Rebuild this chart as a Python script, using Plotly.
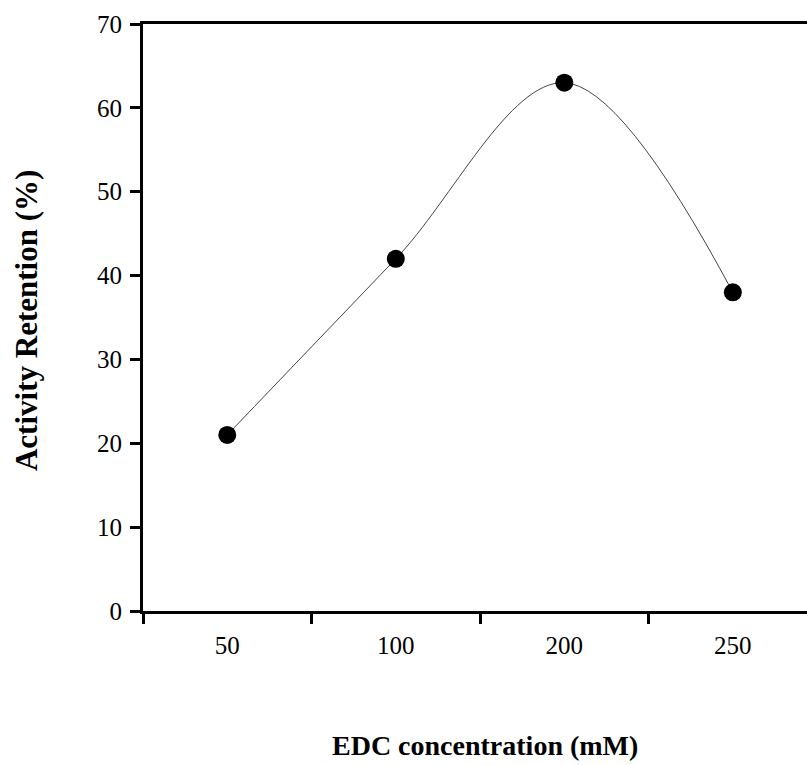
import plotly.graph_objects as go

categories = ["50", "100", "200", "250"]
activity_retention = [21, 42, 63, 38]
y_ticks = [0, 10, 20, 30, 40, 50, 60, 70]

fig = go.Figure()
fig.add_trace(go.Scatter(
    x=categories, y=activity_retention,
    mode="lines+markers",
    line=dict(color="#444444", width=1, shape="spline", smoothing=1.0),
    marker=dict(color="black", size=18),
    showlegend=False,
))

font_family = "Liberation Serif"
fig.update_layout(
    width=807, height=765,
    margin=dict(l=143, r=0, t=24, b=154, autoexpand=False),
    paper_bgcolor="white", plot_bgcolor="white",
    font=dict(family=font_family, color="black"),
    annotations=[
        dict(text="<b>EDC concentration (mM)</b>", xref="paper", yref="paper",
             x=0.515, y=-0.2283, xanchor="center", yanchor="middle",
             showarrow=False, font=dict(size=28, family=font_family, color="black")),
        dict(text="<b>Activity Retention (%)</b>", xref="paper", yref="paper",
             x=-0.1762, y=0.494, xanchor="center", yanchor="middle", textangle=-90,
             showarrow=False, font=dict(size=31, family=font_family, color="black")),
    ],
)
fig.update_xaxes(
    type="category",
    range=[-0.5, 3.44], automargin=False,
    showline=True, linecolor="black", linewidth=3, mirror=True,
    ticks="outside", tickson="boundaries", ticklen=10, tickwidth=3, tickcolor="black",
    tickfont=dict(size=25, family=font_family), ticklabelstandoff=10,
    showgrid=False, zeroline=False,
)
fig.update_yaxes(
    range=[0, 70], tickvals=y_ticks, automargin=False,
    showline=True, linecolor="black", linewidth=3,
    ticks="outside", ticklen=10, tickwidth=3, tickcolor="black",
    tickfont=dict(size=25, family=font_family), ticklabelstandoff=3,
    showgrid=False, zeroline=False,
)

fig.write_html(
    "out.html",
    config={"displayModeBar": False},
    post_script="document.body.style.margin='0';document.body.style.overflow='hidden';",
)
